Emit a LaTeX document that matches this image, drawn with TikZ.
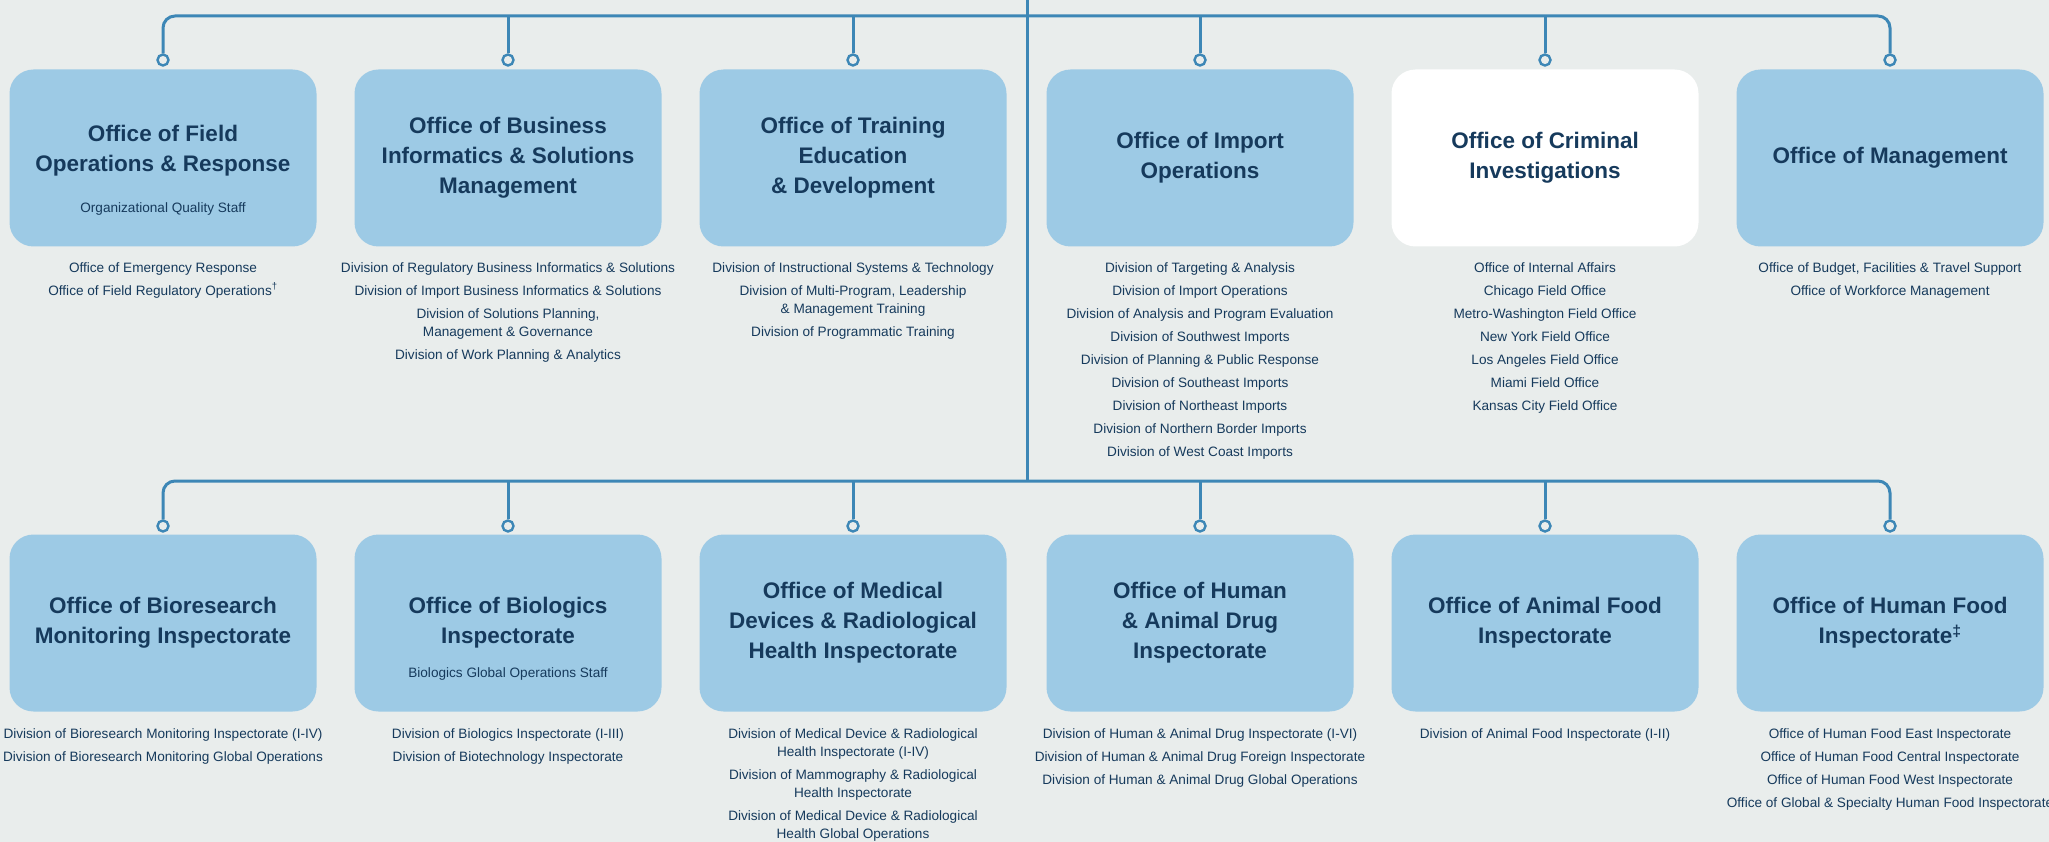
\documentclass[tikz,border=0pt]{standalone}
\usepackage{fontspec}
\setmainfont{Liberation Sans}
\definecolor{bgcol}{HTML}{E9EDEC}
\definecolor{boxcol}{HTML}{9DCAE5}
\definecolor{wirecol}{HTML}{3D87B6}
\definecolor{inkcol}{HTML}{163A5C}

\begin{document}
\begin{tikzpicture}
 [x=1pt,y=-1pt,
  office/.style={rounded corners=24pt,fill=boxcol,minimum width=307pt,minimum height=177pt,text=inkcol,align=center,font=\bfseries\fontsize{22.5}{30}\selectfont},
  title/.style={text=inkcol,align=center,font=\bfseries\fontsize{22.5}{30}\selectfont},
  staff/.style={text=inkcol,align=center,font=\fontsize{13.6}{18}\selectfont},
  units/.style={text=inkcol,align=center,anchor=north,inner sep=0pt,font=\fontsize{13.6}{18}\selectfont},
  knob/.style={circle,draw=wirecol,line width=2.4pt,fill=bgcol,minimum size=11pt,inner sep=0pt},
  wire/.style={draw=wirecol,line width=3pt}]
  \useasboundingbox (0,0) rectangle (2049,842);
  \fill[bgcol] (0,0) rectangle (2049,842);
  % top row
  \node[office] (field) at (163,158) {};
  \node[title] (field-t) at (163,151) {Office of Field\\Operations \& Response};
  \node[staff] (field-s) at (163,209) {Organizational Quality Staff};
  \node[office] (bizinfo) at (508,158) {Office of Business\\Informatics \& Solutions\\Management};
  \node[office] (training) at (853,158) {Office of Training\\Education\\\& Development};
  \node[office] (import) at (1200,158) {Office of Import\\Operations};
  \node[office,fill=white] (criminal) at (1545,158) {Office of Criminal\\Investigations};
  \node[office] (mgmt) at (1890,158) {Office of Management};
  \node[units] (field-u) at (163,262) {Office of Emergency Response\\[5pt]Office of Field Regulatory Operations\textsuperscript{†}};
  \node[units] (bizinfo-u) at (508,262) {Division of Regulatory Business Informatics \& Solutions\\[5pt]Division of Import Business Informatics \& Solutions\\[5pt]Division of Solutions Planning,\\Management \& Governance\\[5pt]Division of Work Planning \& Analytics};
  \node[units] (training-u) at (853,262) {Division of Instructional Systems \& Technology\\[5pt]Division of Multi-Program, Leadership\\\& Management Training\\[5pt]Division of Programmatic Training};
  \node[units] (import-u) at (1200,262) {Division of Targeting \& Analysis\\[5pt]Division of Import Operations\\[5pt]Division of Analysis and Program Evaluation\\[5pt]Division of Southwest Imports\\[5pt]Division of Planning \& Public Response\\[5pt]Division of Southeast Imports\\[5pt]Division of Northeast Imports\\[5pt]Division of Northern Border Imports\\[5pt]Division of West Coast Imports};
  \node[units] (criminal-u) at (1545,262) {Office of Internal Affairs\\[5pt]Chicago Field Office\\[5pt]Metro-Washington Field Office\\[5pt]New York Field Office\\[5pt]Los Angeles Field Office\\[5pt]Miami Field Office\\[5pt]Kansas City Field Office};
  \node[units] (mgmt-u) at (1890,262) {Office of Budget, Facilities \& Travel Support\\[5pt]Office of Workforce Management};
  % bottom row
  \node[office] (biores) at (163,623) {Office of Bioresearch\\Monitoring Inspectorate};
  \node[office] (biologics) at (508,623) {Office of Biologics\\Inspectorate};
  \node[staff] (biologics-s) at (508,674) {Biologics Global Operations Staff};
  \node[office] (meddev) at (853,623) {Office of Medical\\Devices \& Radiological\\Health Inspectorate};
  \node[office] (drug) at (1200,623) {Office of Human\\\& Animal Drug\\Inspectorate};
  \node[office] (animal) at (1545,623) {Office of Animal Food\\Inspectorate};
  \node[office] (humanfood) at (1890,623) {Office of Human Food\\Inspectorate\textsuperscript{‡}};
  \node[units] (biores-u) at (163,728) {Division of Bioresearch Monitoring Inspectorate (I-IV)\\[5pt]Division of Bioresearch Monitoring Global Operations};
  \node[units] (biologics-u) at (508,728) {Division of Biologics Inspectorate (I-III)\\[5pt]Division of Biotechnology Inspectorate};
  \node[units] (meddev-u) at (853,728) {Division of Medical Device \& Radiological\\Health Inspectorate (I-IV)\\[5pt]Division of Mammography \& Radiological\\Health Inspectorate\\[5pt]Division of Medical Device \& Radiological\\Health Global Operations};
  \node[units] (drug-u) at (1200,728) {Division of Human \& Animal Drug Inspectorate (I-VI)\\[5pt]Division of Human \& Animal Drug Foreign Inspectorate\\[5pt]Division of Human \& Animal Drug Global Operations};
  \node[units] (animal-u) at (1545,728) {Division of Animal Food Inspectorate (I-II)};
  \node[units] (humanfood-u) at (1890,728) {Office of Human Food East Inspectorate\\[5pt]Office of Human Food Central Inspectorate\\[5pt]Office of Human Food West Inspectorate\\[5pt]Office of Global \& Specialty Human Food Inspectorate};
  % buses
  \foreach \n/\x in {1/163,2/508,3/853,4/1200,5/1545,6/1890}{
    \node[knob] (tk\n) at (\x,60) {};
    \node[knob] (bk\n) at (\x,526) {};
  }
  \coordinate (topedge) at (1027,-4);
  \coordinate (topbus) at (1027,16);
  \coordinate (botbus) at (1027,481);
  \draw[wire,rounded corners=12pt] (tk1.north) |- (topbus) -| (tk6.north);
  \draw[wire,rounded corners=12pt] (bk1.north) |- (botbus) -| (bk6.north);
  \draw[wire] (topedge) -- (botbus);
  \foreach \from/\to in {tk2/topbus,tk3/topbus,tk4/topbus,tk5/topbus,bk2/botbus,bk3/botbus,bk4/botbus,bk5/botbus}
    \draw[wire] (\from.north) -- (\from.north |- \to);
\end{tikzpicture}
\end{document}
